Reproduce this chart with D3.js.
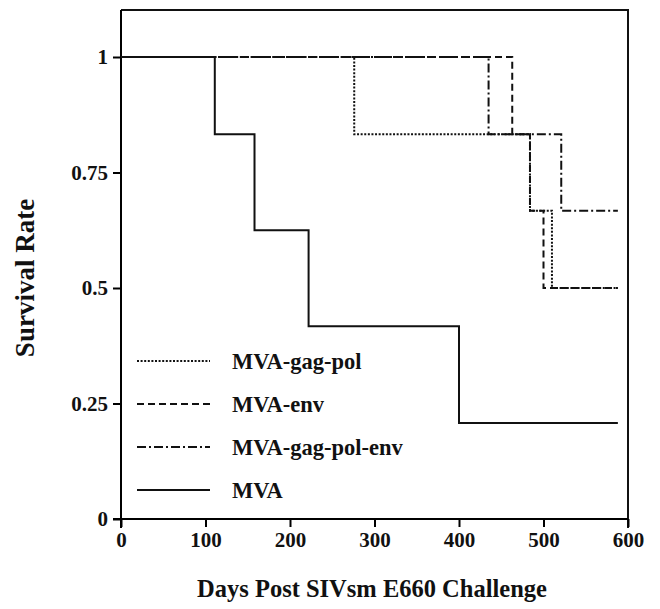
<!DOCTYPE html>
<meta charset="utf-8">
<script src="https://d3js.org/d3.v7.min.js"></script>
<style>
  body { margin: 0; background: #fff; }
  text { font-family: "Liberation Serif", "Times New Roman", serif; font-weight: bold; fill: #111; }
</style>
<div id="km_viz"></div>
<script>

// survival curves (day of each step, survival after it)
var gagPolDays = [0, 276, 484, 510, 588];
var gagPolSurv = [1, 0.833, 0.667, 0.5, 0.5];

var envDays = [0, 463, 484, 500, 588];
var envSurv = [1, 0.833, 0.667, 0.5, 0.5];

var gagPolEnvDays = [0, 435, 521, 588];
var gagPolEnvSurv = [1, 0.833, 0.667, 0.667];

var mvaDays = [0, 111, 158, 222, 400, 588];
var mvaSurv = [1, 0.833, 0.625, 0.417, 0.208, 0.208];

var groupNames = ["MVA-gag-pol", "MVA-env", "MVA-gag-pol-env", "MVA"];
var xTicks = [0, 100, 200, 300, 400, 500, 600];
var yTicks = [0, 0.25, 0.5, 0.75, 1];
var yTickLabels = ["0", "0.25", "0.5", "0.75", "1"];

var width = 660, height = 609;
// plot box (window.top is taken, so plotTop)
var plotLeft = 121, plotRight = 628, plotTop = 10, plotBottom = 519;

var svg = d3.select("#km_viz")
  .append("svg")
    .attr("width", width)
    .attr("height", height);

var x = d3.scaleLinear().domain([0, 600]).range([plotLeft, plotRight]);
var y = d3.scaleLinear().domain([0, 1]).range([plotBottom, 57]);

// line styles, one per group
var dashes = ["2,1.6", "7,4", "9,3,2,3", null];

function zipCurve(days, surv) {
  return days.map(function(d, i) { return {day: d, s: surv[i]}; });
}
var curves = [
  zipCurve(gagPolDays, gagPolSurv),
  zipCurve(envDays, envSurv),
  zipCurve(gagPolEnvDays, gagPolEnvSurv),
  zipCurve(mvaDays, mvaSurv)
];

// frame (top and right sides)
svg.append("path")
  .attr("d", "M" + plotLeft + "," + plotTop + "H" + plotRight + "V" + (plotBottom + 9))
  .attr("fill", "none")
  .attr("stroke", "#111")
  .attr("stroke-width", 2);

// X axis
var xAxis = svg.append("g")
  .attr("transform", "translate(0," + plotBottom + ")")
  .call(d3.axisBottom(x).tickValues(xTicks).tickSize(8).tickSizeOuter(0).tickPadding(5));
xAxis.select(".domain").attr("stroke-width", 2).attr("d", "M" + (plotLeft - 8) + ",0H" + plotRight);
xAxis.selectAll(".tick line").attr("stroke-width", 2);
xAxis.selectAll(".tick text").style("font-size", "21px");

// Y axis
var yAxis = svg.append("g")
  .attr("transform", "translate(" + plotLeft + ",0)")
  .call(d3.axisLeft(y).tickValues(yTicks).tickSize(8).tickSizeOuter(0).tickPadding(5)
    .tickFormat(function(d, i) { return yTickLabels[i]; }));
yAxis.select(".domain").attr("stroke-width", 2).attr("d", "M0," + plotTop + "V" + (plotBottom + 9));
yAxis.selectAll(".tick line").attr("stroke-width", 2);
yAxis.selectAll(".tick text").style("font-size", "21px");

// the survival steps
var line = d3.line()
  .curve(d3.curveStepAfter)
  .x(function(d) { return x(d.day); })
  .y(function(d) { return y(d.s); });

svg.append("g")
  .selectAll("path")
  .data(curves)
  .enter()
  .append("path")
    .attr("d", line)
    .attr("fill", "none")
    .attr("stroke", "#111")
    .attr("stroke-width", 2)
    .attr("stroke-dasharray", function(d, i) { return dashes[i]; });

// legend
var legendY = [361, 404, 447, 490];
var legend = svg.append("g")
  .selectAll("g")
  .data(groupNames)
  .enter()
  .append("g")
    .attr("transform", function(d, i) { return "translate(0," + legendY[i] + ")"; });
legend.append("line")
  .attr("x1", 137).attr("x2", 210)
  .attr("stroke", "#111")
  .attr("stroke-width", 2)
  .attr("stroke-dasharray", function(d, i) { return dashes[i]; });
legend.append("text")
  .attr("x", 232)
  .attr("dy", "0.35em")
  .style("font-size", "22.5px")
  .text(function(d) { return d; });

// axis titles
svg.append("text")
  .attr("x", 372)
  .attr("y", 597)
  .attr("text-anchor", "middle")
  .style("font-size", "24.5px")
  .text("Days Post SIVsm E660 Challenge");

svg.append("text")
  .attr("transform", "translate(25,278) rotate(-90)")
  .attr("dy", "0.35em")
  .attr("text-anchor", "middle")
  .style("font-size", "27px")
  .text("Survival Rate");

</script>
